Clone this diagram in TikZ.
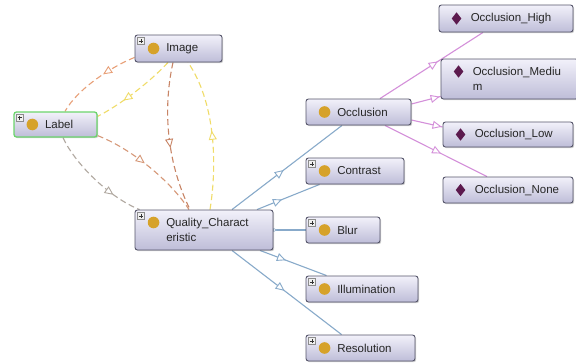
\documentclass[tikz,border=0pt]{standalone}
\usepackage{fontspec}
\setmainfont{Liberation Sans}
\usetikzlibrary{arrows.meta,decorations.markings,shadows,calc}
\pgfdeclarelayer{bgzero}
\pgfdeclarelayer{edges}
\pgfsetlayers{bgzero,edges,main}
\definecolor{boxtop}{HTML}{F2F1FA}
\definecolor{boxbot}{HTML}{BEBDD8}
\definecolor{boxdraw}{HTML}{55556A}
\definecolor{clsdot}{HTML}{D6A22A}
\definecolor{inddot}{HTML}{5C1A4E}
\definecolor{lblgreen}{HTML}{6CD46C}
\definecolor{txtcol}{HTML}{262626}
\definecolor{eorange}{HTML}{E8A078}
\definecolor{eyellow}{HTML}{F0DC68}
\definecolor{ebrown}{HTML}{C88566}
\definecolor{elq}{HTML}{D69878}
\definecolor{egray}{HTML}{B0A8A0}
\definecolor{eblue}{HTML}{88AACA}
\definecolor{epurple}{HTML}{D490DA}
\tikzset{
  ontobox/.style={draw=boxdraw, line width=0.9pt, rounded corners=2.5pt,
    top color=boxtop, bottom color=boxbot, inner sep=0pt,
    drop shadow={shadow xshift=1.2pt, shadow yshift=-1.2pt, opacity=0.3, fill=black!60}},
  labelbox/.style={ontobox, draw=lblgreen, line width=1.3pt},
  ontotext/.style={anchor=west, inner sep=0pt, align=left, text=txtcol,
    font=\fontsize{11.5}{15}\selectfont},
  plusbox/.style={draw=black!45, fill=black!6, minimum size=6.5pt, inner sep=0pt,
    line width=0.4pt,
    path picture={\draw[black!80, line width=0.6pt]
      ($(path picture bounding box.center)+(-2,0)$) -- +(4,0)
      ($(path picture bounding box.center)+(0,-2)$) -- +(0,4);}},
  rel/.style={line width=1.1pt},
  dashrel/.style={rel, dash pattern=on 6pt off 3.5pt},
  tipat/.style={postaction={decorate, decoration={markings,
    mark=at position #1 with {\arrow[solid, line width=0.9pt]{Triangle[length=9pt,width=8pt,fill=white]}}}}},
  smalltipat/.style={postaction={decorate, decoration={markings,
    mark=at position #1 with {\arrow[solid, line width=0.6pt]{Triangle[length=4pt,width=4pt,fill=white]}}}}},
}
\newcommand\ontonode[6]{%
  \node[#6, minimum width={#4-#2}, minimum height={#5-#3}] (#1) at ({(#2+#4)/2},{-(#3+#5)/2}) {};}
\newcommand\clsicon[2]{\fill[clsdot] ($(#1.west)+(19,#2)$) circle (5.8);}
\newcommand\indicon[2]{\fill[inddot] ($(#1.west)+(18,#2)$) +(0,6.2) -- +(4.8,0) -- +(0,-6.2) -- +(-4.8,0) -- cycle;}
\newcommand\plusicon[1]{\node[plusbox] (#1-p) at ($(#1.north west)+(6.3,-6.3)$) {};}
\begin{document}
\begin{tikzpicture}[x=1pt,y=1pt]
\begin{pgfonlayer}{bgzero}
\fill[white] (0,0) rectangle (576,-364);
\end{pgfonlayer}
\useasboundingbox (0,0) rectangle (576,-364);

% nodes
\ontonode{Image}{135}{35}{222}{62}{ontobox}
\ontonode{Label}{14}{112}{97}{137}{labelbox}
\ontonode{QC}{135}{210}{273}{250}{ontobox}
\ontonode{Occ}{306}{99}{411}{125}{ontobox}
\ontonode{Contrast}{306}{158}{404}{184}{ontobox}
\ontonode{Blur}{306}{217}{380}{243}{ontobox}
\ontonode{Illum}{306}{276}{418}{302}{ontobox}
\ontonode{Resol}{306}{335}{415}{361}{ontobox}
\ontonode{OccH}{439}{5}{573}{32}{ontobox}
\ontonode{OccM}{441}{59}{578}{99}{ontobox}
\ontonode{OccL}{443}{122}{573}{147}{ontobox}
\ontonode{OccN}{443}{177}{573}{203}{ontobox}

\node[ontotext] (Image-t) at ($(Image.west)+(31.5,0)$) {Image};
\node[ontotext] (Label-t) at ($(Label.west)+(31.5,0)$) {Label};
\node[ontotext] (QC-t) at ($(QC.west)+(31.5,0)$) {Quality\_Charact\\eristic};
\node[ontotext] (Occ-t) at ($(Occ.west)+(31.5,0)$) {Occlusion};
\node[ontotext] (Contrast-t) at ($(Contrast.west)+(31.5,0)$) {Contrast};
\node[ontotext] (Blur-t) at ($(Blur.west)+(31.5,0)$) {Blur};
\node[ontotext] (Illum-t) at ($(Illum.west)+(31.5,0)$) {Illumination};
\node[ontotext] (Resol-t) at ($(Resol.west)+(31.5,0)$) {Resolution};
\node[ontotext] (OccH-t) at ($(OccH.west)+(32,0)$) {Occlusion\_High};
\node[ontotext] (OccM-t) at ($(OccM.west)+(32,0)$) {Occlusion\_Mediu\\m};
\node[ontotext] (OccL-t) at ($(OccL.west)+(32,0)$) {Occlusion\_Low};
\node[ontotext] (OccN-t) at ($(OccN.west)+(32,0)$) {Occlusion\_None};

\clsicon{Image}{0}
\clsicon{Label}{0}
\clsicon{QC}{7.5}
\clsicon{Occ}{0}
\clsicon{Contrast}{0}
\clsicon{Blur}{0}
\clsicon{Illum}{0}
\clsicon{Resol}{0}
\indicon{OccH}{0}
\indicon{OccM}{7.5}
\indicon{OccL}{0}
\indicon{OccN}{0}

\plusicon{Image}
\plusicon{Label}
\plusicon{QC}
\plusicon{Contrast}
\plusicon{Blur}
\plusicon{Illum}
\plusicon{Resol}

\begin{pgfonlayer}{edges}
% dashed object-property arcs
\draw[dashrel, eorange, tipat=0.4] ($(Image.south west)+(0,5)$)
  .. controls (113,-66) and (78,-88) .. ($(Label.north)+(9.5,0)$);
\draw[dashrel, eyellow, tipat=0.66] ($(Image.south)+(-10.5,0)$)
  .. controls (150,-82) and (120,-105) .. ($(Label.north east)+(0,-5)$);
\draw[dashrel, ebrown, tipat=0.57] ($(Image.south)+(-5.5,0)$)
  .. controls (162,-112) and (168,-165) .. ($(QC.north)+(-14,0)$);
\draw[dashrel, eyellow, tipat=0.52] ($(QC.north)+(6,0)$)
  .. controls (218,-160) and (214,-100) .. ($(Image.south)+(9.5,0)$);
\draw[dashrel, elq, tipat=0.46] ($(Label.south east)+(0,2)$)
  .. controls (130,-148) and (170,-180) .. ($(QC.north)+(-15,0)$);
\draw[dashrel, egray, tipat=0.72] ($(Label.south)+(7.5,0)$)
  .. controls (74,-162) and (108,-197) .. ($(QC.north west)+(5,0)$);
% subclass edges
\draw[rel, eblue, tipat=0.47] ($(QC.north)+(28,0)$) -- ($(Occ.south)+(-16.5,0)$);
\draw[rel, eblue, tipat=0.4] ($(QC.north)+(53,0)$) -- ($(Contrast.south west)+(14,0)$);
\draw[rel, eblue, smalltipat=0.12] (QC.east) -- (Blur.west);
\draw[rel, eblue, tipat=0.39] ($(QC.south)+(56,0)$) -- ($(Illum.north west)+(21,0)$);
\draw[rel, eblue, tipat=0.48] ($(QC.south)+(28,0)$) -- ($(Resol.north west)+(36,0)$);
% instance edges
\draw[rel, epurple, tipat=0.56] ($(Occ.north)+(21.5,0)$) -- ($(OccH.south)+(-23,0)$);
\draw[rel, epurple, tipat=0.97] ($(Occ.east)+(0,8)$) -- ($(OccM.south west)+(0,3)$);
\draw[rel, epurple, tipat=0.97] ($(Occ.east)+(0,-8)$) -- ($(OccL.west)+(0,7.5)$);
\draw[rel, epurple, tipat=0.55] ($(Occ.south)+(26.5,0)$) -- ($(OccN.north)+(-21,0)$);
\end{pgfonlayer}
\end{tikzpicture}
\end{document}
